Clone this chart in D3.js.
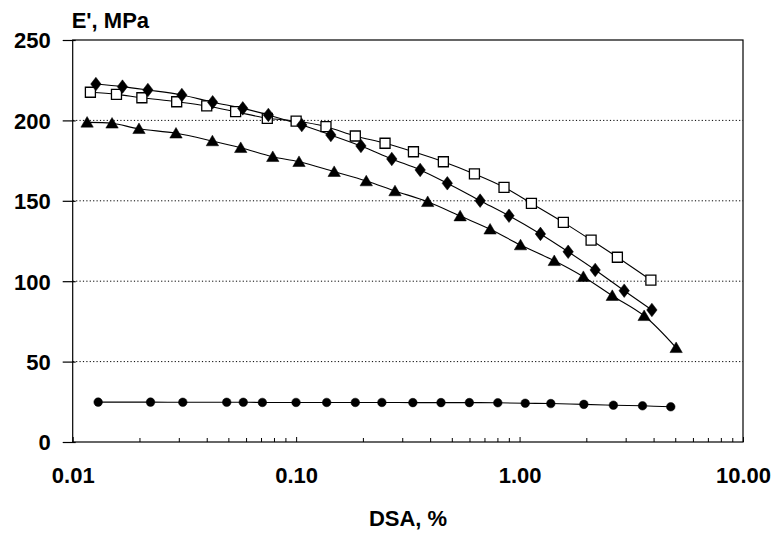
<!DOCTYPE html>
<html><head><meta charset="utf-8">
<script src="https://cdn.jsdelivr.net/npm/d3@7"></script>
<style>
html,body{margin:0;padding:0;background:#fff;}
svg{display:block;}
text{font-family:"Liberation Sans",Arial,Helvetica,sans-serif;font-weight:bold;fill:#000;}
</style></head>
<body>
<svg id="chart" width="776" height="533"></svg>
<script>
// ---- data ----
const xTickValues = [0.01, 0.1, 1, 10];
const xTickLabels = ["0.01", "0.10", "1.00", "10.00"];
const yTickValues = [0, 50, 100, 150, 200, 250];
const yTickLabels = ["0", "50", "100", "150", "200", "250"];
const yAxisTitle = "E', MPa";
const xAxisTitle = "DSA, %";

const diamondX = [0.0127,0.0167,0.0217,0.0308,0.0423,0.0577,0.0751,0.106,0.143,0.195,0.268,0.359,0.475,0.666,0.897,1.24,1.65,2.18,2.94,3.91];
const diamondY = [222.6,221.0,218.9,215.8,211.3,207.5,203.4,197.1,190.9,184.1,176.0,169.2,160.9,150.1,140.7,129.4,118.3,107.0,94.1,82.1];
const squareX = [0.0120,0.0157,0.0204,0.0292,0.0398,0.0536,0.0743,0.100,0.136,0.184,0.250,0.335,0.456,0.628,0.852,1.13,1.57,2.09,2.74,3.87];
const squareY = [217.5,216.2,214.1,211.6,209.0,205.4,201.3,199.6,196.1,190.3,185.8,180.5,174.3,166.7,158.4,148.4,136.6,125.6,114.9,100.7];
const triangleX = [0.0116,0.0150,0.0198,0.0290,0.0422,0.0565,0.0786,0.103,0.148,0.206,0.277,0.388,0.542,0.738,1.01,1.43,1.93,2.60,3.61,5.02];
const triangleY = [198.8,198.2,194.8,192.0,187.2,183.0,177.4,174.3,168.1,162.3,156.1,149.4,140.5,132.3,122.5,112.7,102.8,91.0,78.5,58.6];
const circleX = [0.0130,0.0223,0.0311,0.0489,0.0580,0.0706,0.0999,0.137,0.184,0.242,0.333,0.445,0.596,0.799,1.06,1.38,1.94,2.63,3.55,4.75];
const circleY = [24.8,24.8,24.7,24.7,24.7,24.6,24.6,24.6,24.6,24.6,24.5,24.5,24.5,24.4,24.1,23.9,23.4,22.9,22.5,21.9];

// ---- layout ----
const svg = d3.select("#chart");
const L = 72.7, R = 743, T = 40, B = 442;
const FS = 22;
const x = d3.scaleLog().domain([0.01, 10]).range([L, R]);
const y = d3.scaleLinear().domain([0, 250]).range([B, T]);

// gridlines
svg.append("g").selectAll("line").data([50,100,150,200]).join("line")
  .attr("x1", L).attr("x2", R).attr("y1", d => y(d)).attr("y2", d => y(d))
  .attr("stroke", "#000").attr("stroke-width", 1).attr("stroke-dasharray", "1.2,2.2");

// frame
svg.append("rect").attr("x", L).attr("y", T).attr("width", R - L).attr("height", B - T)
  .attr("fill", "none").attr("stroke", "#000").attr("stroke-width", 1.2);

// y axis
const yAxis = d3.axisLeft(y).tickValues(yTickValues).tickSize(10).tickPadding(12)
  .tickFormat((d, i) => yTickLabels[i]);
const gy = svg.append("g").attr("transform", `translate(${L},0)`).call(yAxis);
gy.select(".domain").remove();
gy.selectAll(".tick line").attr("stroke", "#000").attr("stroke-width", 1.2).attr("x2", -10).attr("x1", 3);
gy.selectAll(".tick text").attr("font-size", FS).attr("font-weight", "bold")
  .attr("font-family", '"Liberation Sans",Arial,sans-serif').attr("fill", "#000").attr("dy", "0.36em");

// x axis: minor ticks (inward)
const minor = [];
for (let e = -2; e < 1; e++) for (let m = 2; m <= 9; m++) minor.push(m * Math.pow(10, e));
svg.append("g").selectAll("line").data(minor).join("line")
  .attr("x1", d => x(d)).attr("x2", d => x(d)).attr("y1", B).attr("y2", B - 4)
  .attr("stroke", "#000").attr("stroke-width", 1);
const xAxis = d3.axisBottom(x).tickValues(xTickValues).tickSize(5).tickPadding(20)
  .tickFormat((d, i) => xTickLabels[i]);
const gx = svg.append("g").attr("transform", `translate(0,${B})`).call(xAxis);
gx.select(".domain").remove();
gx.selectAll(".tick line").attr("stroke", "#000").attr("y2", -5);
gx.selectAll(".tick text").attr("font-size", FS).attr("font-weight", "bold")
  .attr("font-family", '"Liberation Sans",Arial,sans-serif').attr("fill", "#000");

// axis titles
svg.append("text").attr("x", L - 1).attr("y", 28).attr("font-size", FS).text(yAxisTitle);
svg.append("text").attr("x", 408).attr("y", 526).attr("text-anchor", "middle").attr("font-size", FS).text(xAxisTitle);

// lines
const line = d3.line().x(d => x(d[0])).y(d => y(d[1])).curve(d3.curveCatmullRom.alpha(0.5));
const zip = (a, b) => a.map((v, i) => [v, b[i]]);
const series = [
  {name: "circle", pts: zip(circleX, circleY)},
  {name: "triangle", pts: zip(triangleX, triangleY)},
  {name: "square", pts: zip(squareX, squareY)},
  {name: "diamond", pts: zip(diamondX, diamondY)}
];
series.forEach(s => {
  svg.append("path").attr("d", line(s.pts)).attr("fill", "none").attr("stroke", "#000").attr("stroke-width", 1.1);
});

// markers
const shapes = {
  circle: "M-4.3,0A4.3,4.3 0 1,0 4.3,0A4.3,4.3 0 1,0 -4.3,0Z",
  triangle: "M0,-5.8L6.2,4.8L-6.2,4.8Z",
  square: "M-5,-5L5,-5L5,5L-5,5Z",
  diamond: "M0,-6.8L5.2,0L0,6.8L-5.2,0Z"
};
series.forEach(s => {
  svg.append("g").selectAll("path").data(s.pts).join("path")
    .attr("transform", d => `translate(${x(d[0])},${y(d[1])})`)
    .attr("d", shapes[s.name])
    .attr("fill", s.name === "square" ? "#fff" : "#000")
    .attr("stroke", "#000").attr("stroke-width", s.name === "square" ? 1.3 : 0.5);
});
</script>
</body></html>
